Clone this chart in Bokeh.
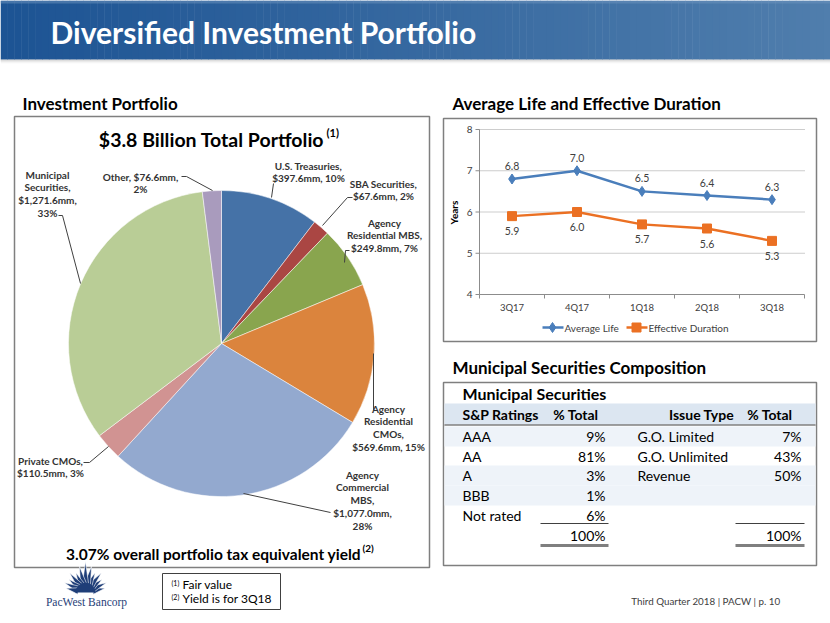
import numpy as np
from bokeh.plotting import figure
from bokeh.models import Range1d
from bokeh.core.properties import value
from bokeh.embed import file_html
from bokeh.resources import INLINE

# ---------------- data ----------------
pie_categories = ["U.S. Treasuries", "SBA Securities", "Agency Residential MBS",
                  "Agency Residential CMOs", "Agency Commercial MBS", "Private CMOs",
                  "Municipal Securities", "Other"]
pie_values = [397.6, 67.6, 249.8, 569.6, 1077.0, 110.5, 1271.6, 76.6]
pie_pcts = [10, 2, 7, 15, 28, 3, 33, 2]
pie_colors = ["#4572A7", "#AA4643", "#89A54E", "#DB843D", "#93A9CF", "#D19392", "#B9CD96", "#A99BBD"]

quarters = ["3Q17", "4Q17", "1Q18", "2Q18", "3Q18"]
avg_life = [6.8, 7.0, 6.5, 6.4, 6.3]
eff_duration = [5.9, 6.0, 5.7, 5.6, 5.3]
year_ticks = [4, 5, 6, 7, 8]

ratings = ["AAA", "AA", "A", "BBB", "Not rated"]
rating_pct = [9, 81, 3, 1, 6]
issue_types = ["G.O. Limited", "G.O. Unlimited", "Revenue"]
issue_pct = [7, 43, 50]

# ---------------- canvas ----------------
W, H = 830, 623
FONT = value("Lato")
p = figure(width=W, height=H, x_range=Range1d(0, W), y_range=Range1d(0, H),
           output_backend="svg", toolbar_location=None, min_border=0)
p.axis.visible = False
p.grid.visible = False
p.outline_line_color = None
p.background_fill_color = "white"


def Y(s):
    return H - s


def txt(x, y, t, size, bold=False, color="#000000", align="left", font=FONT, angle=0.0,
        baseline="middle", **kw):
    p.text(x=[x], y=[Y(y)], text=[t], text_font=font, text_font_size=f"{size}px",
           text_font_style="bold" if bold else "normal", text_color=color,
           text_align=align, text_baseline=baseline, angle=angle, **kw)


# ---------------- title bar ----------------
n = 120
edges = np.linspace(0, W, n + 1)
c0 = np.array([29, 84, 148])
c1 = np.array([80, 126, 173])
cols = []
for i in range(n):
    t = i / (n - 1)
    c = (c0 * (1 - t) + c1 * t).astype(int)
    cols.append("#%02x%02x%02x" % tuple(c))
p.quad(left=edges[:-1], right=edges[1:] + 0.5, top=Y(0), bottom=Y(59), color=cols, line_color=None)
p.quad(left=0, right=W, top=Y(0), bottom=Y(3), color="#6D93BE", line_color=None, alpha=0.5)
for k, a in enumerate([0.35, 0.22, 0.12, 0.06]):
    p.quad(left=0, right=W, top=Y(59 + k), bottom=Y(60 + k), color="#808080", alpha=a, line_color=None)
txt(50, 31, "Diversified Investment Portfolio", 30, bold=True, color="white")

# ---------------- section headers ----------------
txt(22, 103, "Investment Portfolio", 17, bold=True)
txt(452, 103, "Average Life and Effective Duration", 17, bold=True)
txt(452, 367, "Municipal Securities Composition", 17, bold=True)

# ---------------- boxes ----------------
for (l, t, r, b) in [(14, 116, 429, 567), (443, 118, 816, 341), (443, 382, 816, 565)]:
    p.quad(left=l, right=r, top=Y(t), bottom=Y(b), fill_color=None, line_color="#7F7F7F", line_width=1.5)

# ---------------- pie ----------------
cx, cy, R = 221, Y(343), 153
total = sum(pie_values)
cum = np.concatenate([[0], np.cumsum(pie_values)])
starts = np.pi / 2 - 2 * np.pi * cum[:-1] / total
ends = np.pi / 2 - 2 * np.pi * cum[1:] / total
p.wedge(x=cx, y=cy, radius=R, start_angle=starts, end_angle=ends, direction="clock",
        fill_color=pie_colors, line_color="white", line_width=0.5)

txt(211, 139, "$3.8 Billion Total Portfolio", 19.5, bold=True, align="center")
txt(326, 132, "(1)", 11, bold=True)

lab_lines = [
    [f"{pie_categories[0]},", f"${pie_values[0]:,.1f}mm, {pie_pcts[0]}%"],
    [f"{pie_categories[1]},", f"${pie_values[1]:,.1f}mm, {pie_pcts[1]}%"],
    ["Agency", "Residential MBS,", f"${pie_values[2]:,.1f}mm, {pie_pcts[2]}%"],
    ["Agency", "Residential", "CMOs,", f"${pie_values[3]:,.1f}mm, {pie_pcts[3]}%"],
    ["Agency", "Commercial", "MBS,", f"${pie_values[4]:,.1f}mm,", f"{pie_pcts[4]}%"],
    [f"{pie_categories[5]},", f"${pie_values[5]:,.1f}mm, {pie_pcts[5]}%"],
    ["Municipal", "Securities,", f"${pie_values[6]:,.1f}mm,", f"{pie_pcts[6]}%"],
    [f"{pie_categories[7]}, ${pie_values[7]:,.1f}mm,", f"{pie_pcts[7]}%"],
]
lab_pos = [(308, 165), (383, 183), (384, 222), (388, 408), (362, 474), (50, 460), (47, 174), (140, 176)]
LH = 12.8
for lines, (lx, ly) in zip(lab_lines, lab_pos):
    for j, s in enumerate(lines):
        txt(lx, ly + j * LH, s, 10, bold=True, color="#333333", align="center")

leaders = [
    [(273, 183), (271, 197)],
    [(352, 197), (347, 197), (322, 225)],
    [(349, 250), (345, 250), (344, 262)],
    [(373, 353), (373, 410)],
    [(330, 512), (243, 493)],
    [(83, 462), (89, 462), (108, 446)],
    [(58, 215), (62, 215), (80, 283)],
    [(181, 176), (186, 176), (212, 190)],
]
p.multi_line(xs=[[a for a, b in L] for L in leaders], ys=[[Y(b) for a, b in L] for L in leaders],
             line_color="#404040", line_width=1)

txt(213, 553, "3.07% overall portfolio tax equivalent yield", 15.5, bold=True, align="center")
txt(362, 547, "(2)", 10, bold=True)

# ---------------- logo ----------------
lx0, ly0 = 85, 592
ang = np.radians(np.linspace(12, 168, 13))
lens = [20, 23, 21, 25, 22, 27, 31, 27, 22, 25, 21, 23, 20]
pxs, pys = [], []
for a, L in zip(ang, lens):
    w = 0.42
    r0 = 8
    pxs.append([lx0 + r0 * np.cos(a - w), lx0 + L * np.cos(a), lx0 + r0 * np.cos(a + w)])
    pys.append([Y(ly0 - r0 * np.sin(a - w)), Y(ly0 - L * np.sin(a)), Y(ly0 - r0 * np.sin(a + w))])
p.patches(xs=pxs, ys=pys, fill_color="#1F3E78", line_color="white", line_width=0.6)
p.wedge(x=lx0, y=Y(ly0), radius=10, start_angle=0, end_angle=np.pi, fill_color="#1F3E78", line_color=None)
txt(86, 601, "PacWest Bancorp", 11.5, color="#1F3E78", align="center", font=value("Liberation Serif"))

# ---------------- footnotes ----------------
p.quad(left=162, right=280, top=Y(573), bottom=Y(609), fill_color=None, line_color="#404040", line_width=1)
txt(171, 582, "(1)", 7)
txt(182, 584, "Fair value", 12)
txt(171, 596, "(2)", 7)
txt(182, 598, "Yield is for 3Q18", 12)

txt(780, 600, "Third Quarter 2018 | PACW | p. 10", 9.8, color="#404040", align="right")

# ---------------- line chart (own scales) ----------------
L_, R_, T_, B_ = 479, 804, 129, 294
bw = (R_ - L_) / len(quarters)
ppu = (B_ - T_) / (year_ticks[-1] - year_ticks[0])
p.extra_x_ranges = {"lcx": Range1d(-L_ / bw - 0.5, (W - L_) / bw - 0.5)}
p.extra_y_ranges = {"lcy": Range1d(year_ticks[0] - (H - B_) / ppu, year_ticks[-1] + T_ / ppu)}
kw = dict(x_range_name="lcx", y_range_name="lcy")
idx = list(range(len(quarters)))
x_lo, x_hi = -0.5, len(quarters) - 0.5
ymin = year_ticks[0]

gl = year_ticks[1:]
p.segment(x0=[x_lo] * len(gl), x1=[x_hi] * len(gl), y0=gl, y1=gl, line_color="#9A9A9A",
          line_dash="1 1", line_width=1, **kw)
p.segment(x0=[x_lo, x_lo], x1=[x_hi, x_lo], y0=[ymin, ymin], y1=[ymin, year_ticks[-1]],
          line_color="#8C8C8C", line_width=1, **kw)
# tick marks
p.segment(x0=[x_lo - 4 / bw] * len(year_ticks), x1=[x_lo] * len(year_ticks), y0=year_ticks, y1=year_ticks,
          line_color="#8C8C8C", **kw)
bnds = [i - 0.5 for i in range(len(quarters) + 1)]
p.segment(x0=bnds, x1=bnds, y0=[ymin] * len(bnds), y1=[ymin - 4 / ppu] * len(bnds), line_color="#8C8C8C", **kw)
p.text(x=[x_lo - 7 / bw] * len(year_ticks), y=year_ticks, text=[str(v) for v in year_ticks],
       text_font=FONT, text_font_size="10px", text_align="right", text_baseline="middle",
       text_color="#404040", **kw)
p.text(x=idx, y=[ymin - 13 / ppu] * len(idx), text=quarters, text_font=FONT, text_font_size="9.5px",
       text_align="center", text_baseline="middle", text_color="#404040", **kw)
txt(453, 212, "Years", 10, bold=True, align="center", angle=np.pi / 2)

BLUE, ORANGE = "#4A7EBB", "#EB7023"
p.line(x=idx, y=avg_life, line_color=BLUE, line_width=2.5, **kw)
p.scatter(x=idx, y=avg_life, marker="diamond", size=10, fill_color=BLUE, line_color=BLUE, **kw)
p.line(x=idx, y=eff_duration, line_color=ORANGE, line_width=2.5, **kw)
p.scatter(x=idx, y=eff_duration, marker="square", size=9, fill_color=ORANGE, line_color=ORANGE, **kw)
p.text(x=idx, y=[v + 13 / ppu for v in avg_life], text=[f"{v:.1f}" for v in avg_life], text_font=FONT,
       text_font_size="10.5px", text_align="center", text_baseline="middle", text_color="#404040", **kw)
p.text(x=idx, y=[v - 15 / ppu for v in eff_duration], text=[f"{v:.1f}" for v in eff_duration], text_font=FONT,
       text_font_size="10.5px", text_align="center", text_baseline="middle", text_color="#404040", **kw)

# legend
p.line(x=[542, 563], y=[Y(327), Y(327)], line_color=BLUE, line_width=2.5)
p.scatter(x=[552], y=[Y(327)], marker="diamond", size=10, fill_color=BLUE, line_color=BLUE)
txt(564, 327, "Average Life", 10, color="#404040")
p.line(x=[626, 647], y=[Y(327), Y(327)], line_color=ORANGE, line_width=2.5)
p.scatter(x=[636], y=[Y(327)], marker="square", size=9, fill_color=ORANGE, line_color=ORANGE)
txt(648, 327, "Effective Duration", 10, color="#404040")

# ---------------- table ----------------
SHADE = "#DCE6F1"
LIGHT = "#EEF3F9"
p.quad(left=444, right=815, top=Y(403), bottom=Y(424), fill_color=SHADE, line_color=None)
row_y = [436, 455.5, 475, 495, 515]
row_shade = [True, False, True, True, False]
for ry, sh in zip(row_y, row_shade):
    if sh:
        p.quad(left=444, right=815, top=Y(ry - 10), bottom=Y(ry + 10), fill_color=LIGHT, line_color=None)
p.segment(x0=[444], x1=[815], y0=[Y(424.5)], y1=[Y(424.5)], line_color="#404040", line_width=1)

txt(462, 393, "Municipal Securities", 16, bold=True)
txt(462, 414, "S&P Ratings", 14, bold=True)
txt(598, 414, "% Total", 14, bold=True, align="right")
txt(701, 414, "Issue Type", 14, bold=True, align="center")
txt(792, 414, "% Total", 14, bold=True, align="right")

for ry, r, v in zip(row_y, ratings, rating_pct):
    txt(462, ry, r, 14)
    txt(605, ry, f"{v}%", 14, align="right")
for ry, r, v in zip(row_y, issue_types, issue_pct):
    txt(637, ry, r, 14)
    txt(801, ry, f"{v}%", 14, align="right")
txt(605, 535, f"{sum(rating_pct)}%", 14, align="right")
txt(801, 535, f"{sum(issue_pct)}%", 14, align="right")
p.segment(x0=[540, 735], x1=[608, 804], y0=[Y(523), Y(523)], y1=[Y(523), Y(523)], line_color="#404040", line_width=1)
p.segment(x0=[540, 735], x1=[608, 804], y0=[Y(545), Y(545)], y1=[Y(545), Y(545)], line_color="#7F7F7F", line_width=3)

open("out.html", "w").write(file_html(p, INLINE))
